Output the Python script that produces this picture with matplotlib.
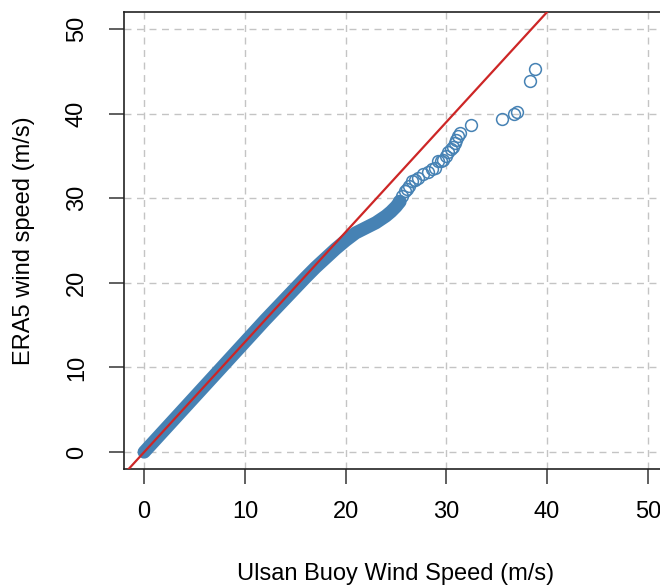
import matplotlib
matplotlib.use('Agg')
import matplotlib.pyplot as plt

plt.rcParams['font.family'] = ['Liberation Sans', 'DejaVu Sans']

# 分位数主体 (密集部分，读图估计)
buoy_body = [0, 2, 4, 6, 8, 10, 12, 14, 16, 17, 18, 19, 20, 21, 22, 23, 24, 24.5, 25, 25.4]
era5_body = [0, 2.6, 5.2, 7.8, 10.4, 13.0, 15.6, 18.1, 20.6, 21.8, 22.9, 24.0, 25.0, 25.9, 26.5, 27.1, 27.9, 28.4, 29.0, 29.6]

# 尾部散点
buoy_tail = [25.3, 25.6, 25.9, 26.1, 26.3, 26.6, 26.9, 27.2, 27.7, 28.2, 28.6, 28.9, 29.2, 29.5,
             29.7, 30.0, 30.2, 30.5, 30.7, 30.9, 31.0, 31.2, 31.4, 32.4, 35.5, 36.7, 37.0, 38.3, 38.8]
era5_tail = [29.7, 30.2, 30.8, 31.1, 31.4, 32.0, 32.2, 32.4, 32.8, 33.1, 33.4, 33.6, 34.4, 34.4,
             34.5, 35.0, 35.5, 35.8, 36.1, 36.5, 36.9, 37.3, 37.7, 38.7, 39.4, 39.9, 40.2, 43.9, 45.3]

ref_intercept = 0.0
ref_slope = 1.3
ticks = [0, 10, 20, 30, 40, 50]

point_color = 'steelblue'
line_color = '#cd2626'
grid_color = '#c4c4c4'

fig = plt.figure(figsize=(6.6, 5.88), dpi=100)
ax = fig.add_axes([124 / 660, 119 / 588, 544 / 660, 457 / 588])

ax.set_xlim(-2, 52)
ax.set_ylim(-2, 52)
ax.set_xticks(ticks)
ax.set_yticks(ticks)
ax.grid(True, color=grid_color, linestyle=(0, (5, 4)), linewidth=1.0, zorder=0)
ax.set_axisbelow(True)

# 主体: 大量重叠的空心圆看起来像一条粗带
ax.plot(buoy_body, era5_body, color=point_color, linewidth=9.5, solid_capstyle='round',
        solid_joinstyle='round', zorder=2)
ax.plot(buoy_tail, era5_tail, linestyle='none', marker='o', markersize=8.5,
        markerfacecolor='none', markeredgecolor=point_color, markeredgewidth=1.1, zorder=3)

ax.axline((0, ref_intercept), slope=ref_slope, color=line_color, linewidth=1.6, zorder=4)

for side in ['left', 'bottom', 'top']:
    ax.spines[side].set_linewidth(1.2)
    ax.spines[side].set_color('#222222')
ax.spines['right'].set_visible(False)

ax.tick_params(axis='both', direction='out', length=11, width=1.2, color='#444444',
               labelsize=17, pad=12)
ax.tick_params(axis='y', pad=15)
for lab in ax.get_yticklabels():
    lab.set_rotation(90)
    lab.set_va('center')

ax.set_xlabel('Ulsan Buoy Wind Speed (m/s)', fontsize=17, labelpad=29)
ax.set_ylabel('ERA5 wind speed (m/s)', fontsize=17, labelpad=22)

fig.savefig('out.png', dpi=100)
